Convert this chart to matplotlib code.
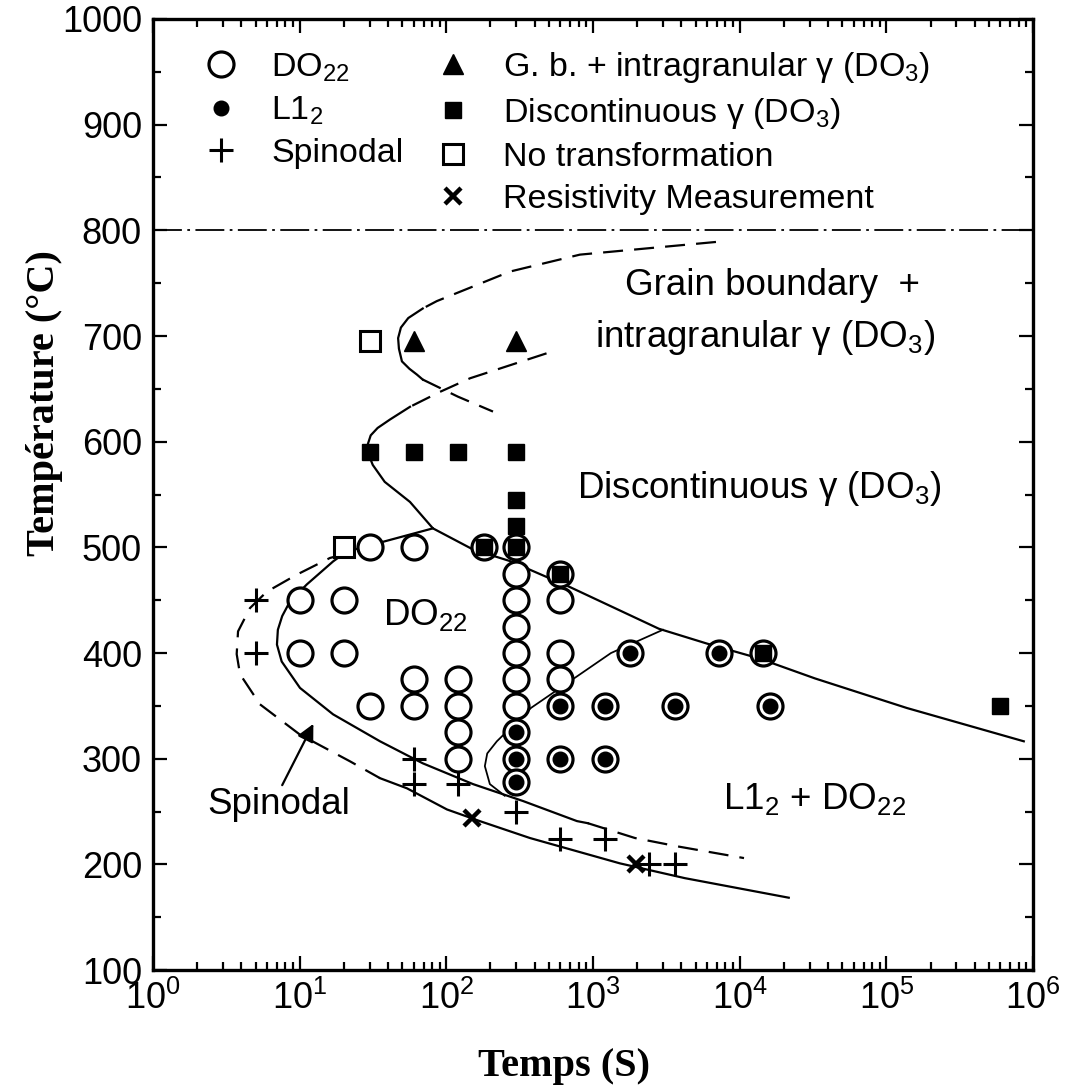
import matplotlib.pyplot as plt
from matplotlib.lines import Line2D
from matplotlib.ticker import MultipleLocator, LogLocator, NullFormatter

plt.rcParams['font.family'] = ['Liberation Sans', 'DejaVu Sans']
plt.rcParams['mathtext.fontset'] = 'custom'
plt.rcParams['mathtext.rm'] = 'Liberation Sans'
plt.rcParams['mathtext.it'] = 'Liberation Sans:italic'
plt.rcParams['mathtext.bf'] = 'Liberation Sans:bold'
plt.rcParams['mathtext.default'] = 'regular'

# --- measured points (time in s, temperature in C) ---
do22_t = [30, 60, 180, 300,
          300, 600,
          10, 20, 300, 600,
          300,
          10, 20, 300, 600, 1800, 7200, 14400,
          60, 120, 300, 600,
          30, 60, 120, 300, 600, 1200, 3600, 16000,
          120, 300,
          120, 300, 600, 1200,
          300]
do22_T = [500, 500, 500, 500,
          475, 475,
          450, 450, 450, 450,
          425,
          400, 400, 400, 400, 400, 400, 400,
          375, 375, 375, 375,
          350, 350, 350, 350, 350, 350, 350, 350,
          325, 325,
          300, 300, 300, 300,
          278]

l12_t = [1800, 7200, 600, 1200, 3600, 16000, 300, 300, 600, 1200, 300]
l12_T = [400, 400, 350, 350, 350, 350, 325, 300, 300, 300, 278]

disc_t = [30, 60, 120, 300, 300, 300, 180, 300, 600, 14400, 600000]
disc_T = [590, 590, 590, 590, 545, 520, 500, 500, 475, 400, 350]

gb_t = [60, 300]
gb_T = [695, 695]

notr_t = [30, 20]
notr_T = [695, 500]

spin_t = [5, 5, 60, 60, 120, 300, 600, 1200, 2400, 3600]
spin_T = [450, 400, 300, 276, 276, 250, 224, 224, 200, 200]

resist_t = [150, 1950]
resist_T = [244, 200]

# --- boundary curves ---
c1_top_t = [6890, 814, 272, 86, 69]
c1_top_T = [789, 777, 761, 733, 726]
c1_nose_t = [69, 55, 49, 46.9, 47.5, 49.8, 56, 63, 69]
c1_nose_T = [726, 717, 708, 698, 688, 676, 669, 663.5, 658.8]
c1_low_t = [69, 120, 208]
c1_low_T = [658.8, 642.6, 628.5]

c2_dash_t = [482, 145, 90, 56.5]
c2_dash_T = [683.6, 660, 647, 633]
c2_t = [56.5, 41.3, 34, 30.5, 29.2, 29.5, 31.5, 38, 56.5, 81, 152, 272, 707,
        2812, 5970, 13500, 32600, 138000, 865000]
c2_T = [633, 621, 613, 606, 598, 588, 578, 562, 543, 518, 498, 487, 462,
        423, 409, 395, 376, 348, 316.5]

cA_t = [81, 20.9, 16.9, 11.2, 8.6, 7.6, 7.1, 7.0, 7.54, 10.05, 16.9, 35.3,
        69, 152, 333, 777, 922]
cA_T = [518, 496, 486.7, 465, 449, 435, 422, 408, 392, 367, 342, 316.5,
        295.7, 276, 260, 241, 239]
cA_dash_t = [922, 1930, 3790, 10700]
cA_dash_T = [239, 225, 217, 206]

cB_dash_t = [20.9, 16.1, 9.5, 5.96, 4.58, 3.8, 3.72, 3.92, 5.36, 10, 22, 35.3]
cB_dash_T = [494, 490, 474, 458, 442.5, 420.5, 399, 380, 351.5, 323, 297.6, 281.6]
cB_t = [35.3, 53.9, 101, 169, 371, 1525, 4230, 21600]
cB_T = [281.6, 272, 252, 241, 225, 201, 187, 168.5]

l12b_t = [2995, 1325, 742, 377, 221, 190, 183, 198, 250]
l12b_T = [422, 400, 376, 348, 316.5, 305, 293, 276, 265]

x_ticks = [1, 10, 100, 1e3, 1e4, 1e5, 1e6]
x_ticklabels = ['10$^{0}$', '10$^{1}$', '10$^{2}$', '10$^{3}$',
                '10$^{4}$', '10$^{5}$', '10$^{6}$']

fig = plt.figure(figsize=(10.79, 10.90), dpi=100)
ax = fig.add_axes([0.1418, 0.110, 0.8156, 0.8726])

lw = 1.6
dash = (0, (9, 5))
ax.plot(c1_top_t, c1_top_T, color='k', lw=lw, ls=dash)
ax.plot(c1_nose_t, c1_nose_T, color='k', lw=lw)
ax.plot(c1_low_t, c1_low_T, color='k', lw=lw, ls=dash)
ax.plot(c2_dash_t, c2_dash_T, color='k', lw=lw, ls=dash)
ax.plot(c2_t, c2_T, color='k', lw=lw)
ax.plot(cA_t, cA_T, color='k', lw=lw)
ax.plot(cA_dash_t, cA_dash_T, color='k', lw=lw, ls=dash)
ax.plot(cB_dash_t, cB_dash_T, color='k', lw=lw, ls=dash)
ax.plot(cB_t, cB_T, color='k', lw=lw)
ax.plot(l12b_t, l12b_T, color='k', lw=lw * 0.8)

ax.axhline(800, color='k', lw=1.3, ls=(0, (16, 3, 1.5, 3)))

ax.plot(do22_t, do22_T, 'o', ms=18, mfc='white', mec='k', mew=2.3, zorder=3, label='DO$_{22}$')
ax.plot(l12_t, l12_T, 'o', ms=10.5, color='k', zorder=4, label='L1$_{2}$')
ax.plot(spin_t, spin_T, '+', ms=17, mew=2.2, color='k', zorder=4, label='Spinodal')
ax.plot(gb_t, gb_T, '^', ms=15, color='k', zorder=4,
        label='G. b. + intragranular γ (DO$_{3}$)')
ax.plot(disc_t, disc_T, 's', ms=11, color='k', zorder=4, label='Discontinuous γ (DO$_{3}$)')
ax.plot(notr_t, notr_T, 's', ms=15, mfc='white', mec='k', mew=2.2, zorder=4,
        label='No transformation')
ax.plot(resist_t, resist_T, 'x', ms=11, mew=3.2, color='k', zorder=4,
        label='Resistivity Measurement')

# region labels
ax.text(16800, 748, 'Grain boundary  +', fontsize=26.5, ha='center', va='center')
ax.text(14860, 699, 'intragranular γ (DO$_{3}$)', fontsize=26.5, ha='center', va='center')
ax.text(13700, 556, 'Discontinuous γ (DO$_{3}$)', fontsize=26.5, ha='center', va='center')
ax.text(32600, 262, 'L1$_{2}$ + DO$_{22}$', fontsize=26.5, ha='center', va='center')
ax.text(71.5, 436, 'DO$_{22}$', fontsize=26.5, ha='center', va='center')
ax.text(7.2, 257, 'Spinodal', fontsize=26.5, ha='center', va='center')
ax.annotate('', xy=(12.4, 333), xytext=(7.6, 275),
            arrowprops=dict(arrowstyle='-|>', color='k', lw=1.6,
                            mutation_scale=26, shrinkA=0, shrinkB=0))

handles, labels = ax.get_legend_handles_labels()
blank = Line2D([], [], ls='none', marker=None)
handles = handles[:3] + [blank] + handles[3:]
labels = labels[:3] + [' '] + labels[3:]
ax.legend(handles, labels, ncol=2, loc='upper left', bbox_to_anchor=(0.058, 0.967),
          frameon=False, fontsize=24.5, borderpad=0, borderaxespad=0,
          handlelength=1.0, handletextpad=0.97, columnspacing=0.97, labelspacing=0.32)

ax.set_xscale('log')
ax.set_xlim(1, 1e6)
ax.set_ylim(100, 1000)
ax.set_xticks(x_ticks)
ax.set_xticklabels(x_ticklabels)
ax.set_yticks(range(100, 1001, 100))
ax.yaxis.set_minor_locator(MultipleLocator(50))
ax.xaxis.set_minor_locator(LogLocator(base=10, subs=range(2, 10), numticks=20))
ax.xaxis.set_minor_formatter(NullFormatter())
ax.tick_params(which='both', direction='in', top=True, right=True, width=1.6)
ax.tick_params(which='major', length=10, labelsize=26, pad=8)
ax.tick_params(which='minor', length=6)
for s in ax.spines.values():
    s.set_linewidth(2.4)

ax.set_xlabel('Temps (S)', family='Liberation Serif', fontweight='bold', fontsize=29)
ax.set_ylabel('Température (°C)', family='Liberation Serif', fontweight='bold', fontsize=29)
ax.xaxis.set_label_coords(0.467, -0.082)
ax.yaxis.set_label_coords(-0.102, 0.596)

fig.savefig('out.png', dpi=100)
